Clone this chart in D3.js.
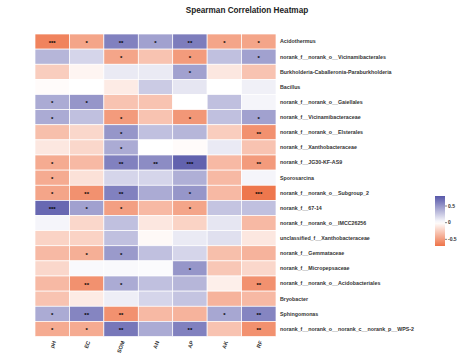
<!DOCTYPE html>
<html><head><meta charset="utf-8">
<script src="https://cdn.jsdelivr.net/npm/d3@7"></script>
<style>body{margin:0;background:#fff}svg{display:block}</style>
</head><body>
<svg id="chart" width="472" height="360"></svg>
<script>
const columns = ["pH","EC","SOM","AN","AP","AK","RF"];
const taxa = [
"Acidothermus",
"norank_f__norank_o__Vicinamibacterales",
"Burkholderia-Caballeronia-Paraburkholderia",
"Bacillus",
"norank_f__norank_o__Gaiellales",
"norank_f__Vicinamibacteraceae",
"norank_f__norank_o__Elsterales",
"norank_f__Xanthobacteraceae",
"norank_f__JG30-KF-AS9",
"Sporosarcina",
"norank_f__norank_o__Subgroup_2",
"norank_f__67-14",
"norank_f__norank_o__IMCC26256",
"unclassified_f__Xanthobacteraceae",
"norank_f__Gemmataceae",
"norank_f__Micropepsaceae",
"norank_f__norank_o__Acidobacteriales",
"Bryobacter",
"Sphingomonas",
"norank_f__norank_o__norank_c__norank_p__WPS-2"
];
const rho = [
[-0.62,-0.45, 0.60, 0.45, 0.62,-0.45,-0.45],
[ 0.35, 0.20,-0.45,-0.30,-0.50, 0.30, 0.45],
[-0.25,-0.05, 0.10, 0.10, 0.45,-0.12,-0.30],
[-0.02, 0.00,-0.10, 0.25, 0.12, 0.00, 0.07],
[ 0.40, 0.50,-0.30,-0.30, 0.00, 0.30, 0.05],
[ 0.40, 0.30,-0.50,-0.30,-0.52, 0.30, 0.45],
[-0.32,-0.20, 0.50, 0.30, 0.35,-0.25,-0.55],
[-0.12,-0.20, 0.40, 0.00,-0.02, 0.10,-0.30],
[-0.42,-0.35, 0.60, 0.55, 0.75,-0.35,-0.50],
[-0.42,-0.15, 0.20, 0.20, 0.38,-0.35, 0.05],
[-0.45,-0.55, 0.60, 0.40, 0.50,-0.35,-0.68],
[ 0.72, 0.45,-0.48,-0.35,-0.45, 0.28, 0.30],
[ 0.05,-0.20, 0.30,-0.12,-0.22, 0.12,-0.35],
[-0.22,-0.22, 0.30,-0.03, 0.10, 0.15,-0.12],
[-0.35,-0.40, 0.48, 0.30, 0.20,-0.32,-0.38],
[-0.20, 0.03, 0.03, 0.02, 0.50,-0.28,-0.20],
[-0.35,-0.55, 0.40, 0.30, 0.35,-0.08,-0.55],
[-0.30,-0.10, 0.08, 0.20, 0.28,-0.38,-0.35],
[ 0.40, 0.58,-0.55,-0.35,-0.38, 0.42, 0.58],
[-0.42,-0.42, 0.65, 0.40, 0.60,-0.30,-0.55]
];
const signif = [
["***","*","**","*","**","*","*"],
["","","*","","*","","*"],
["","","","","*","",""],
["","","","","","",""],
["*","*","","","","",""],
["*","","*","","*","","*"],
["","","*","","","","**"],
["","","*","","","",""],
["*","","**","**","***","","**"],
["*","","","","","",""],
["*","**","**","","*","","***"],
["***","*","*","","*","",""],
["","","","","","",""],
["","","","","","",""],
["","*","*","","","",""],
["","","","","*","",""],
["","**","*","","","","**"],
["","","","","","",""],
["*","**","**","","","*","**"],
["*","*","**","","**","","**"]
];
const legendTicks = [0.5, 0, -0.5];

const svg = d3.select("#chart");
const font = "'Liberation Sans', Arial, sans-serif";
const x = d3.scaleBand().domain(columns).range([35, 276]);
const y = d3.scaleBand().domain(taxa).range([34, 336.5]);
const color = d3.scaleLinear().domain([-0.7, 0, 0.8]).range(["#EE7348", "#FFFFFF", "#5757A9"]).clamp(true);

svg.append("text").attr("x", 247).attr("y", 13).attr("text-anchor", "middle")
  .attr("font-family", font).attr("font-size", 8.2).attr("font-weight", "bold").attr("fill", "#222")
  .text("Spearman Correlation Heatmap");

const cells = [];
taxa.forEach((t, i) => columns.forEach((c, j) => cells.push({t, c, v: rho[i][j], s: signif[i][j]})));

svg.append("g").selectAll("rect").data(cells).join("rect")
  .attr("x", d => x(d.c)).attr("y", d => y(d.t))
  .attr("width", x.bandwidth()).attr("height", y.bandwidth())
  .attr("fill", d => color(d.v)).attr("stroke", "#fff").attr("stroke-width", 0.7);

svg.append("g").selectAll("text").data(cells.filter(d => d.s)).join("text")
  .attr("x", d => x(d.c) + x.bandwidth() / 2)
  .attr("y", d => y(d.t) + y.bandwidth() / 2 + 3.4)
  .attr("text-anchor", "middle").attr("font-family", font).attr("font-size", 6).attr("font-weight", "bold")
  .attr("fill", "#000").text(d => d.s);

svg.append("g").selectAll("text").data(taxa).join("text")
  .attr("x", 280).attr("y", d => y(d) + y.bandwidth() / 2).attr("dy", "0.35em")
  .attr("font-family", font).attr("font-size", 5.3).attr("font-weight", "bold").attr("fill", "#333")
  .text(d => d);

svg.append("g").selectAll("text").data(columns).join("text")
  .attr("transform", d => `translate(${x(d) + x.bandwidth() / 2 + 2},341) rotate(-70)`)
  .attr("text-anchor", "end").attr("dy", "0.35em")
  .attr("font-family", font).attr("font-size", 5.5).attr("font-weight", "bold").attr("fill", "#333")
  .text(d => d);

// colour bar
const ly = d3.scaleLinear().domain([-0.7, 0.8]).range([246, 196]);
const defs = svg.append("defs");
const grad = defs.append("linearGradient").attr("id", "cb").attr("x1", 0).attr("y1", 1).attr("x2", 0).attr("y2", 0);
d3.range(0, 1.0001, 0.05).forEach(p => {
  const v = -0.7 + p * 1.5;
  grad.append("stop").attr("offset", p).attr("stop-color", color(v));
});
svg.append("rect").attr("x", 435).attr("y", 196).attr("width", 10).attr("height", 50).attr("fill", "url(#cb)");
const lg = svg.append("g").selectAll("g").data(legendTicks).join("g")
  .attr("transform", d => `translate(445,${ly(d)})`);
lg.append("line").attr("x1", 0).attr("x2", 2).attr("stroke", "#333").attr("stroke-width", 0.6);
lg.append("text").attr("x", 3).attr("dy", "0.35em").attr("font-family", font).attr("font-size", 5)
  .attr("font-weight", "bold").attr("fill", "#333").text(d => d);
</script>
</body></html>
